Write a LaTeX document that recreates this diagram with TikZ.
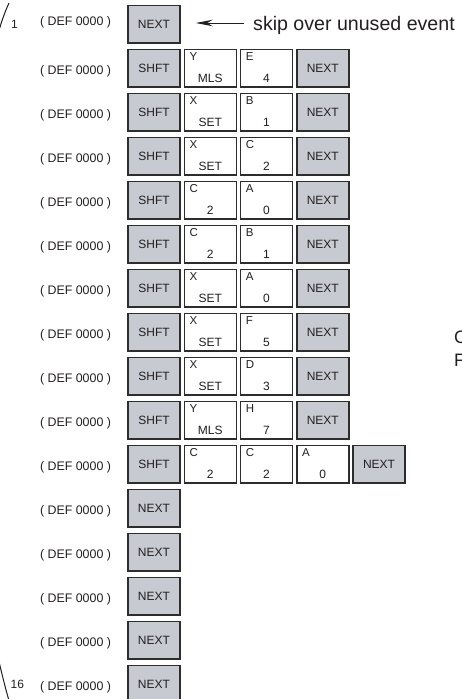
\documentclass[tikz,border=0pt]{standalone}
\usepackage{fontspec}
\setmainfont{Liberation Sans}
\usetikzlibrary{arrows.meta}
\definecolor{keygray}{RGB}{200,202,209}
\definecolor{edgec}{RGB}{45,45,45}
\definecolor{textc}{RGB}{35,31,32}
\tikzset{
  key/.style={draw=edgec, line width=1.5pt, minimum width=52pt, minimum height=37.5pt,
    inner sep=0pt, text=textc, font=\fontsize{12}{14}\selectfont},
  gkey/.style={key, fill=keygray},
  wkey/.style={key, fill=white},
  toplab/.style={inner sep=0pt, text=textc, font=\fontsize{11.5}{13}\selectfont},
  botlab/.style={inner sep=0pt, text=textc, font=\fontsize{12}{14}\selectfont},
  deftext/.style={inner sep=0pt, text=textc, font=\fontsize{12.4}{14}\selectfont},
  numtext/.style={inner sep=0pt, text=textc, font=\fontsize{12}{14}\selectfont},
  bigtext/.style={inner sep=0pt, text=textc, font=\fontsize{19.6}{22}\selectfont},
  sidetext/.style={inner sep=0pt, text=textc, font=\fontsize{18}{20}\selectfont},
  pointer/.style={draw=textc, line width=1pt, -{Stealth[length=17pt,width=6.5pt]}},
}
\newcommand\gk[4]{\node[gkey] (#1) at ({154+56.25*#2},{24+44*(#3-1)}) {#4};}
\newcommand\wk[5]{%
  \node[wkey] (#1) at ({154+56.25*#2},{24+44*(#3-1)}) {};
  \node[toplab,anchor=north west] (#1-t) at ([xshift=6pt,yshift=-3.5pt]#1.north west) {#4};
  \node[botlab,anchor=base] (#1-b) at ([yshift=5.5pt]#1.south) {#5};}
\newcommand\defrow[1]{\node[deftext,anchor=base] (d#1) at (75.5,{24+44*(#1-1)+6.5}) {( DEF 0000 )};}
\begin{document}
\begin{tikzpicture}[x=1pt,y=-1pt]
\useasboundingbox (0,0) rectangle (461,699);
\begin{scope}
\clip (0,0) rectangle (461,699);
% bracket at left (mostly beyond the left edge)
\draw[draw=textc, line width=1pt] (9,3) .. controls (4,14) and (1,22) .. (-8,55)
  -- (-8,630) .. controls (-2,658) and (4,684) .. (10,704);
% row 1
\node[deftext,anchor=base] (d1) at (75.5,25) {( DEF 0000 )};
\node[numtext,anchor=base] (num1) at (14.5,28) {1};
\gk{r1a}{0}{1}{NEXT}
\node[bigtext,anchor=base west] (skip) at (253,30) {skip over unused event};
\coordinate (tail) at ([xshift=-9pt]skip.west |- 0,23);
\coordinate (tip) at ([xshift=15pt]r1a.east |- 0,23);
\draw[pointer] (tail) -- (tip);
% rows 2-16
\defrow{2}\gk{r2a}{0}{2}{SHFT}\wk{r2b}{1}{2}{Y}{MLS}\wk{r2c}{2}{2}{E}{4}\gk{r2d}{3}{2}{NEXT}
\defrow{3}\gk{r3a}{0}{3}{SHFT}\wk{r3b}{1}{3}{X}{SET}\wk{r3c}{2}{3}{B}{1}\gk{r3d}{3}{3}{NEXT}
\defrow{4}\gk{r4a}{0}{4}{SHFT}\wk{r4b}{1}{4}{X}{SET}\wk{r4c}{2}{4}{C}{2}\gk{r4d}{3}{4}{NEXT}
\defrow{5}\gk{r5a}{0}{5}{SHFT}\wk{r5b}{1}{5}{C}{2}\wk{r5c}{2}{5}{A}{0}\gk{r5d}{3}{5}{NEXT}
\defrow{6}\gk{r6a}{0}{6}{SHFT}\wk{r6b}{1}{6}{C}{2}\wk{r6c}{2}{6}{B}{1}\gk{r6d}{3}{6}{NEXT}
\defrow{7}\gk{r7a}{0}{7}{SHFT}\wk{r7b}{1}{7}{X}{SET}\wk{r7c}{2}{7}{A}{0}\gk{r7d}{3}{7}{NEXT}
\defrow{8}\gk{r8a}{0}{8}{SHFT}\wk{r8b}{1}{8}{X}{SET}\wk{r8c}{2}{8}{F}{5}\gk{r8d}{3}{8}{NEXT}
\defrow{9}\gk{r9a}{0}{9}{SHFT}\wk{r9b}{1}{9}{X}{SET}\wk{r9c}{2}{9}{D}{3}\gk{r9d}{3}{9}{NEXT}
\defrow{10}\gk{r10a}{0}{10}{SHFT}\wk{r10b}{1}{10}{Y}{MLS}\wk{r10c}{2}{10}{H}{7}\gk{r10d}{3}{10}{NEXT}
\defrow{11}\gk{r11a}{0}{11}{SHFT}\wk{r11b}{1}{11}{C}{2}\wk{r11c}{2}{11}{C}{2}\wk{r11d}{3}{11}{A}{0}\gk{r11e}{4}{11}{NEXT}
\defrow{12}\gk{r12a}{0}{12}{NEXT}
\defrow{13}\gk{r13a}{0}{13}{NEXT}
\defrow{14}\gk{r14a}{0}{14}{NEXT}
\defrow{15}\gk{r15a}{0}{15}{NEXT}
\defrow{16}\gk{r16a}{0}{16}{NEXT}
\node[numtext,anchor=base west] (num16) at (10.5,688) {16};
% cut-off side text (cut at the edge as in the reference)
\node[sidetext,anchor=base west] (sideC) at (454,343) {C};
\node[sidetext,anchor=base west] (sideF) at (454,366.5) {F};
\end{scope}
\end{tikzpicture}
\end{document}
